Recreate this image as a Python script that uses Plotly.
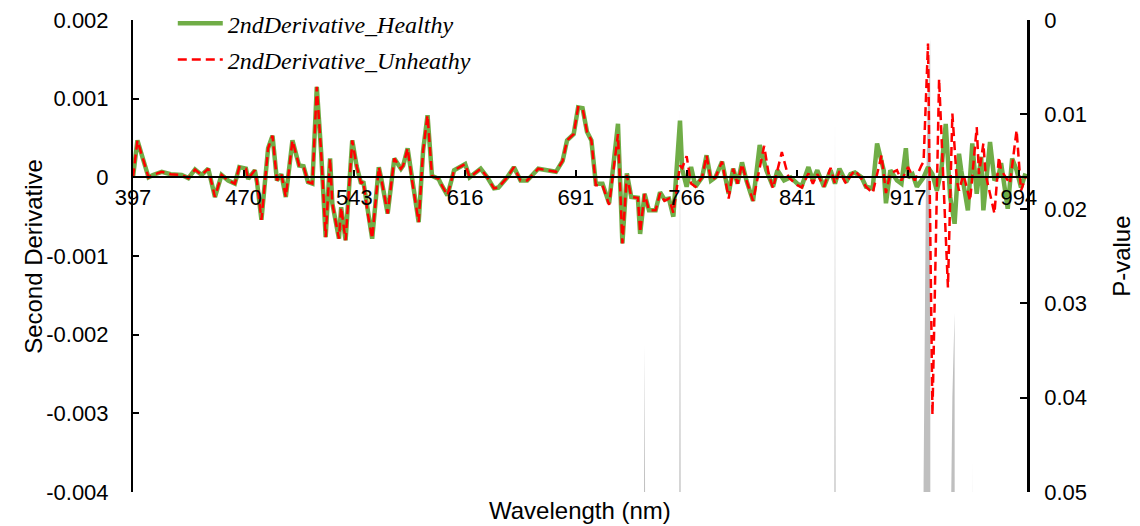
import plotly.graph_objects as go

# Category (band) index axis: labels every 50 bands
tick_bands = [0, 50, 100, 150, 200, 250, 300, 350, 400]
tick_labels = ["397", "470", "543", "616", "691", "766", "841", "917", "994"]

bands_h = [0, 2, 7, 9, 13, 17, 22, 25, 28, 31, 34, 37, 40, 43, 46, 48, 51, 52, 55, 56, 58, 61, 63, 65, 67, 69,
           72, 75, 77, 79, 81, 83, 85, 87, 89, 90, 93, 94, 96, 99, 101, 103, 104, 106, 108, 111, 112, 115, 118,
           121, 122, 124, 126, 129, 131, 133, 135, 138, 139, 142, 145, 150, 152, 157, 160, 163, 165, 169, 172,
           175, 178, 183, 187, 191, 194, 196, 199, 201, 203, 205, 207, 209, 212, 215, 219, 221, 223, 225, 228,
           229, 231, 233, 236, 238, 240, 242, 244, 247, 248, 250, 252, 254, 257, 259, 261, 263, 266, 269, 271,
           273, 275, 277, 280, 283, 286, 289, 291, 294, 297, 300, 302, 305, 307, 309, 312, 315, 317, 319, 322,
           324, 326, 329, 331, 334, 336, 339, 340, 342, 345, 347, 349, 350, 352, 354, 357, 359, 361, 363, 365,
           367, 369, 371, 373, 374, 377, 379, 381, 383, 384, 387, 389, 391, 392, 395, 397, 399, 401, 403]
healthy = [0, 0.00047, 0, 0.00003, 0.00007, 0.00004, 0.00003, -0.00001, 0.0001, 0.00003, 0.00011, -0.00025,
           0.00003, -0.00004, -0.00008, 0.00013, 0.00011, -0.00002, 0.00009, -0.00006, -0.00054, 0.00037,
           0.00053, -0.00004, 0.00004, -0.00025, 0.00047, 0.00015, 0.00014, -0.00006, -0.00008, 0.00115,
           0.0003, -0.00076, 0.00024, -0.00033, -0.00078, -0.00038, -0.0008, 0.00047, 0.00014, -0.00008,
           -0.00005, -0.00046, -0.00078, 0.00013, 0, -0.00046, 0.00024, 0.00011, 0.00015, 0.00037, -0.00004,
           -0.00057, 0.00034, 0.00079, 0.00002, -0.00002, -0.00008, -0.00023, 0.00009, 0.00017, 0, 0.00011, 0,
           -0.00014, -0.00013, 0, 0.00013, -0.00004, -0.00004, 0.00011, 0.00009, 0.00007, 0.00021, 0.00047,
           0.00055, 0.00089, 0.00088, 0.00058, 0.00047, -0.00008, -0.00008, -0.00033, 0.00068, -0.00084,
           0.00005, -0.00025, -0.00026, -0.00072, -0.00021, -0.00042, -0.00042, -0.00019, -0.00028, -0.00027,
           -0.0005, 0.00072, 0.0001, -0.00012, 0.00013, -0.00012, 0, 0.00028, -0.00004, 0, 0.0002, -0.00021,
           0.00011, -0.00008, 0.00019, -0.00004, -0.0003, 0.00041, 0.00009, -0.00012, 0.00009, -0.00004, 0,
           -0.00008, -0.00011, 0.00013, -0.00004, 0.00009, -0.00012, 0.00009, -0.00008, 0.00011, -0.00006,
           0.00004, 0.00006, 0, -0.00012, -0.00014, 0.00043, 0.00009, -0.00033, 0.00009, -0.00004, -0.00008,
           0.00037, 0, 0.00004, -0.00012, 0, 0.00013, 0.00004, -0.00017, 0.00009, 0.00068, -0.00025, -0.00059,
           0.0003, 0.00009, -0.00042, 0.00043, -0.00021, 0.00026, -0.00042, 0.00045, -0.00004, 0.00004,
           0.00018, -0.0004, 0.00024, 0.00009, -0.00013, 0.00005]

bands_u = [0, 2, 7, 9, 13, 17, 22, 25, 28, 31, 34, 37, 40, 43, 46, 48, 51, 52, 55, 56, 58, 61, 63, 65, 67, 69,
           72, 75, 77, 79, 81, 83, 85, 87, 89, 90, 93, 94, 96, 99, 101, 103, 104, 106, 108, 111, 112, 115, 118,
           121, 122, 124, 126, 129, 131, 133, 135, 138, 139, 142, 145, 150, 152, 157, 160, 163, 165, 169, 172,
           175, 178, 183, 187, 191, 194, 196, 199, 201, 203, 205, 207, 209, 212, 215, 219, 221, 223, 225, 228,
           229, 231, 233, 236, 238, 240, 242, 244, 247, 248, 250, 252, 254, 257, 259, 261, 263, 266, 269, 271,
           273, 275, 277, 280, 285, 287, 289, 293, 296, 300, 302, 305, 307, 309, 312, 315, 317, 319, 322, 324,
           326, 329, 331, 334, 338, 340, 342, 345, 347, 350, 353, 356, 357, 359, 361, 364, 368, 370, 372, 373,
           375, 378, 381, 382, 384, 385, 389, 391, 392, 396, 399, 401, 403]
unhealthy = [0, 0.00047, 0, 0.00003, 0.00007, 0.00004, 0.00003, -0.00001, 0.0001, 0.00003, 0.00011, -0.00025,
             0.00003, -0.00004, -0.00008, 0.00013, 0.00011, -0.00002, 0.00009, -0.00006, -0.00054, 0.00037,
             0.00053, -0.00004, 0.00004, -0.00025, 0.00047, 0.00015, 0.00014, -0.00006, -0.00008, 0.00115,
             0.0003, -0.00076, 0.00024, -0.00033, -0.00078, -0.00038, -0.0008, 0.00047, 0.00014, -0.00008,
             -0.00005, -0.00046, -0.00078, 0.00013, 0, -0.00046, 0.00024, 0.00011, 0.00015, 0.00037, -0.00004,
             -0.00057, 0.00034, 0.00079, 0.00002, -0.00002, -0.00008, -0.00023, 0.00009, 0.00017, 0, 0.00011, 0,
             -0.00014, -0.00013, 0, 0.00013, -0.00004, -0.00004, 0.00011, 0.00009, 0.00007, 0.00021, 0.00047,
             0.00055, 0.00089, 0.00088, 0.00058, 0.00047, -0.0001, -0.0001, -0.00035, 0.00055, -0.00084,
             0.00003, -0.00025, -0.00026, -0.0007, -0.00021, -0.00042, -0.00042, -0.0002, -0.0003, -0.00027,
             -0.00045, 0.00015, 0.00012, 0.00027, -0.00008, -0.00012, 0, 0.00028, -0.00004, 0, 0.0002, -0.00027,
             0.00011, -0.00008, 0.00017, -0.00004, -0.0003, 0.0004, 0.00005, -0.00014, 0.00032, 0, -0.0001,
             -0.00013, 0.00005, -0.00008, 0.00004, -0.00012, 0.00012, -0.00008, 0.00008, -0.00008, 0.00002,
             0.00009, -0.00002, -0.00012, -0.0002, 0.00028, -0.0002, 0.00005, 0.00009, -0.00004, 0.00013,
             -0.00004, 0.00015, 0.0002, 0.0017, -0.00302, 0.00125, -0.0014, 0.00081, -0.00004, -0.00017,
             0.00004, -0.0003, 0.00064, 0.00004, 0.00043, 0.00004, -0.00046, 0.00026, 0.00009, -0.00008,
             0.0006, -0.00017, 0]

# P-value (secondary axis, reversed 0 .. 0.05); values above 0.05 fall outside the axis
p_bands = [0, 230, 231, 232, 246, 247, 248, 316, 317, 318, 356, 357, 358, 359, 360, 361,
           369, 370, 371, 372, 378, 379, 380, 403]
p_values = [0.3, 0.1, 0.0344, 0.1, 0.15, 0.009, 0.15, 0.15, 0.0106, 0.15, 0.3, 0.049, 0.019, 0.0085, 0.002, 1.0,
            0.06, 0.04, 0.031, 0.5, 0.2, 0.0466, 0.2, 0.3]
p_base = [1.0 for _ in p_bands]

fig = go.Figure()
fig.add_trace(go.Scatter(x=p_bands, y=p_base, mode="lines", line=dict(width=0), showlegend=False,
                         hoverinfo="skip", xaxis="x", yaxis="y"))
fig.add_trace(go.Scatter(x=p_bands, y=p_values, mode="lines", line=dict(width=0, color="#BFBFBF"),
                         fill="tonexty", fillcolor="#BFBFBF", showlegend=False, name="P-value",
                         xaxis="x", yaxis="y"))
fig.add_trace(go.Scatter(x=bands_h, y=healthy, mode="lines", name="2ndDerivative_Healthy",
                         line=dict(color="#70AD47", width=4.5), xaxis="x", yaxis="y2",
                         legendgroup="a"))
fig.add_trace(go.Scatter(x=bands_u, y=unhealthy, mode="lines", name="2ndDerivative_Unheathy",
                         line=dict(color="#FF0000", width=2.5, dash="9px,5px"), xaxis="x", yaxis="y2",
                         legendgroup="b"))

axis_font = dict(family="Arial, Liberation Sans, sans-serif", size=22, color="black")
title_font = dict(family="Arial, Liberation Sans, sans-serif", size=24, color="black")
xr = [0, 403.7]
fig.update_layout(
    width=1132, height=518,
    margin=dict(l=125, r=113, t=12, b=34, autoexpand=False),
    paper_bgcolor="white", plot_bgcolor="white",
    xaxis=dict(range=xr, anchor="free", position=2/3, tickvals=tick_bands, ticktext=tick_labels,
               ticks="inside", ticklen=6, tickwidth=2, tickcolor="black", showline=True, linecolor="black",
               linewidth=2, showgrid=False, zeroline=False, tickfont=axis_font, automargin=False,
               ticklabeloverflow="allow"),
    xaxis2=dict(range=xr, overlaying="x", anchor="free", position=2/3, tickvals=tick_bands,
                ticks="outside", ticklen=6, tickwidth=2, tickcolor="black", showticklabels=False,
                showline=False, showgrid=False, zeroline=False),
    yaxis=dict(range=[0.05, 0], side="right", tickvals=[0, 0.01, 0.02, 0.03, 0.04, 0.05],
               ticktext=["0", "0.01", "0.02", "0.03", "0.04", "0.05"], ticks="inside", ticklen=7,
               tickwidth=2, tickcolor="black", showline=True, linecolor="black", linewidth=2.5,
               showgrid=False, zeroline=False, tickfont=axis_font, ticklabelstandoff=10, automargin=False,
               ticklabeloverflow="allow"),
    yaxis2=dict(range=[-0.004, 0.002], overlaying="y", side="left",
                tickvals=[0.002, 0.001, 0, -0.001, -0.002, -0.003, -0.004],
                ticktext=["0.002", "0.001", "0", "-0.001", "-0.002", "-0.003", "-0.004"],
                ticks="inside", ticklen=6, tickwidth=2, tickcolor="black", showline=True,
                linecolor="black", linewidth=2, showgrid=False, zeroline=False, tickfont=axis_font,
                ticklabelstandoff=18, automargin=False, ticklabeloverflow="allow"),
    legend=dict(x=0.0445, y=1.04, xanchor="left", yanchor="top", bgcolor="rgba(0,0,0,0)",
                font=dict(family="Liberation Serif, Times New Roman, serif", size=24, color="black",
                          style="italic"),
                itemwidth=45, tracegroupgap=2),
    annotations=[
        dict(text="Second Derivative", xref="paper", yref="paper", x=-0.112, y=0.5, textangle=-90,
             xanchor="center", yanchor="middle", showarrow=False, font=title_font),
        dict(text="P-value", xref="paper", yref="paper", x=1.105, y=0.5, textangle=-90,
             xanchor="center", yanchor="middle", showarrow=False, font=title_font),
        dict(text="Wavelength (nm)", xref="paper", yref="paper", x=0.5, y=-0.04, xanchor="center",
             yanchor="middle", showarrow=False, font=title_font),
    ],
)

fig.write_html("out.html")
